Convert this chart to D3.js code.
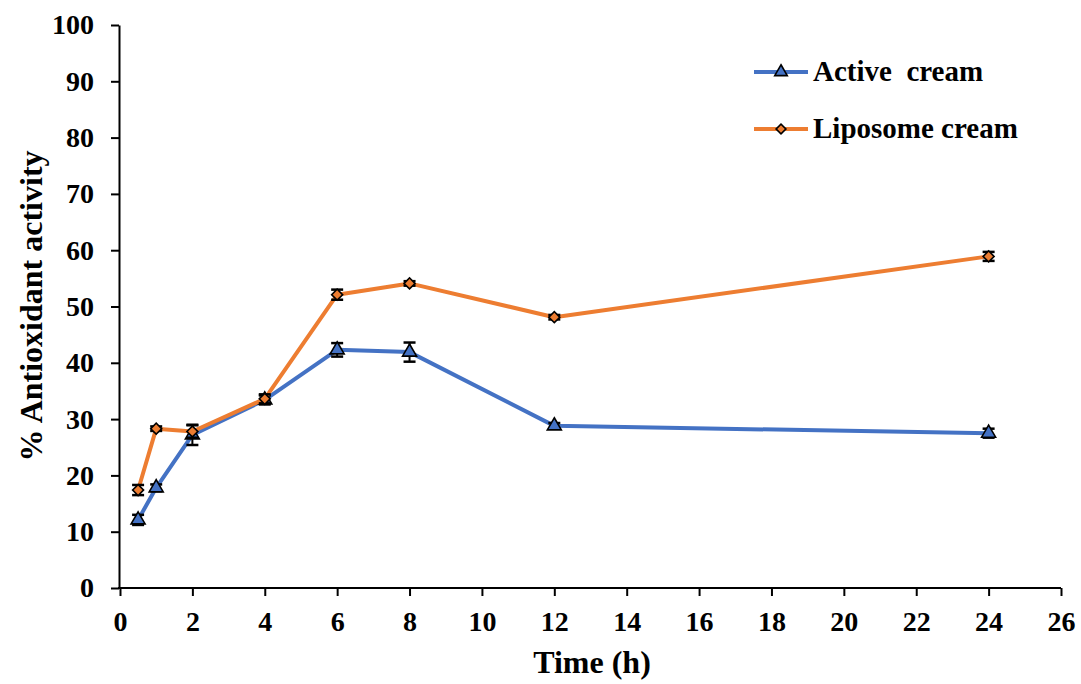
<!DOCTYPE html>
<html>
<head>
<meta charset="utf-8">
<script src="https://cdn.jsdelivr.net/npm/d3@7"></script>
<style>
  html, body { margin: 0; padding: 0; background: #fff; }
  svg text { font-family: "Liberation Serif", "Times New Roman", serif; font-weight: bold; }
</style>
</head>
<body>
<svg id="chart" width="1081" height="684"></svg>
<script>
// Sampling times (h)
const times = [0.5, 1, 2, 4, 6, 8, 12, 24];
// % antioxidant activity, mean and error
const activeMean = [12.1, 17.8, 27.2, 33.4, 42.3, 41.9, 28.8, 27.5];
const activeErr  = [0.9, 0.6, 1.8, 0.8, 1.2, 1.7, 0.5, 0.8];
const liposomeMean = [17.4, 28.3, 27.8, 33.6, 52.1, 54.1, 48.1, 58.9];
const liposomeErr  = [0.9, 0.4, 1.1, 0.8, 0.9, 0.4, 0.4, 0.8];
const xTicks = d3.range(0, 27, 2);
const yTicks = d3.range(0, 101, 10);
const seriesNames = ["Active  cream", "Liposome cream"];

const svg = d3.select("#chart");
const x = d3.scaleLinear().domain([0, 26]).range([120, 1061]);
const y = d3.scaleLinear().domain([0, 100]).range([588, 25]);

// axes
const xAxis = svg.append("g").attr("transform", `translate(0,${y(0)})`)
  .call(d3.axisBottom(x).tickValues(xTicks).tickSize(8).tickPadding(15).tickSizeOuter(0));
const yAxis = svg.append("g").attr("transform", `translate(${x(0) - 1},0)`)
  .call(d3.axisLeft(y).tickValues(yTicks).tickSize(8).tickPadding(17).tickSizeOuter(0));
[xAxis, yAxis].forEach(a => {
  a.selectAll(".domain").attr("stroke", "#000").attr("stroke-width", 2);
  a.selectAll(".tick line").attr("stroke", "#000").attr("stroke-width", 2);
  a.selectAll(".tick text").attr("fill", "#000")
    .style("font-size", "28px").style("font-family", "'Liberation Serif', serif").style("font-weight", "bold");
});
xAxis.select(".domain").attr("d", `M${x(0) - 2},0H${x(26)}`);

// axis titles
svg.append("text").attr("x", 592).attr("y", 673).attr("text-anchor", "middle")
  .style("font-size", "32px").text("Time (h)");
svg.append("text").attr("transform", "translate(42,306) rotate(-90)").attr("text-anchor", "middle")
  .style("font-size", "32px").text("% Antioxidant activity");

const series = [
  { name: seriesNames[0], mean: activeMean, err: activeErr, color: "#4472C4", shape: d3.symbolTriangle, size: 85, rot: 0 },
  { name: seriesNames[1], mean: liposomeMean, err: liposomeErr, color: "#ED7D31", shape: d3.symbolSquare, size: 60, rot: 45 }
];

const line = d3.line().x(d => x(d[0])).y(d => y(d[1]));

series.forEach(s => {
  const pts = times.map((t, i) => [t, s.mean[i], s.err[i]]);
  const g = svg.append("g");
  g.append("path").datum(pts).attr("d", line).attr("fill", "none")
    .attr("stroke", s.color).attr("stroke-width", 4).attr("stroke-linejoin", "round");
  // error bars
  const eb = g.selectAll(".eb").data(pts).enter().append("g");
  eb.append("line").attr("x1", d => x(d[0])).attr("x2", d => x(d[0]))
    .attr("y1", d => y(d[1] - d[2])).attr("y2", d => y(d[1] + d[2]))
    .attr("stroke", "#000").attr("stroke-width", 2);
  [-1, 1].forEach(sg => {
    eb.append("line").attr("x1", d => x(d[0]) - 6).attr("x2", d => x(d[0]) + 6)
      .attr("y1", d => y(d[1] + sg * d[2])).attr("y2", d => y(d[1] + sg * d[2]))
      .attr("stroke", "#000").attr("stroke-width", 2.5);
  });
  // markers
  g.selectAll(".m").data(pts).enter().append("path")
    .attr("d", d3.symbol().type(s.shape).size(s.size))
    .attr("transform", d => `translate(${x(d[0])},${y(d[1])}) rotate(${s.rot})`)
    .attr("fill", s.color).attr("stroke", "#000").attr("stroke-width", 1.6);
});

// legend
const legend = svg.append("g");
series.forEach((s, i) => {
  const ly = 72 + i * 57;
  legend.append("line").attr("x1", 754).attr("x2", 808).attr("y1", ly).attr("y2", ly)
    .attr("stroke", s.color).attr("stroke-width", 4);
  legend.append("path").attr("d", d3.symbol().type(s.shape).size(s.size * 0.8))
    .attr("transform", `translate(781,${ly}) rotate(${s.rot})`)
    .attr("fill", s.color).attr("stroke", "#000").attr("stroke-width", 1.6);
  legend.append("text").attr("x", 813).attr("y", ly + 9).style("font-size", "29px")
    .style("white-space", "pre").attr("xml:space", "preserve").text(s.name);
});
</script>
</body>
</html>
